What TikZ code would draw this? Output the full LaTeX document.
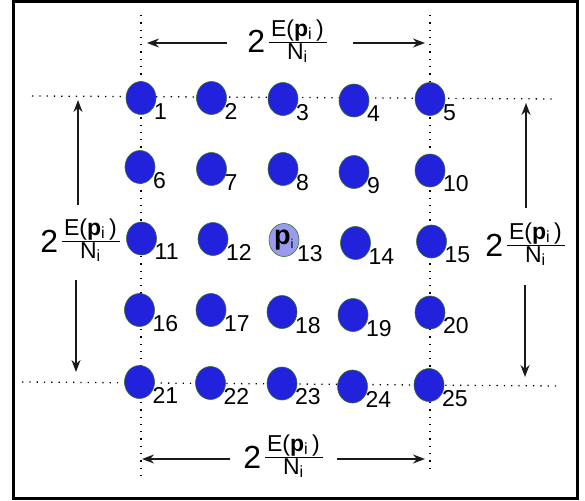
\documentclass[tikz,border=0pt]{standalone}
\usepackage{fontspec}
\setmainfont{Liberation Sans}
\usepackage{xcolor}
\definecolor{cellfill}{HTML}{2222DD}
\definecolor{cellborder}{HTML}{3C6E28}
\definecolor{centerfill}{HTML}{9A9AEE}
\definecolor{arrowcolor}{HTML}{1A1A1A}
\usetikzlibrary{arrows.meta,shapes.geometric}
\tikzset{
    cell/.style={
        ellipse,
        draw=cellborder,
        fill=cellfill,
        line width=0.6pt,
        minimum width=30pt,
        minimum height=33pt,
        inner sep=0pt,
    },
    cellnum/.style={
        anchor=base west,
        inner sep=0pt,
        font=\fontsize{23}{23}\selectfont,
    },
    gridline/.style={
        line width=1.3pt,
        dash pattern=on 1.3pt off 6pt,
    },
    measure/.style={
        anchor=base,
        inner sep=0pt,
        font=\fontsize{23}{20}\selectfont,
    },
    measarrow/.style={
        -{Stealth[length=12pt,width=9pt]},
        line width=1.4pt,
        arrowcolor,
    },
}
\setlength{\arrayrulewidth}{1.3pt}
\newcommand{\spacing}{{\fontsize{32}{32}\selectfont 2}\hspace{4pt}\raisebox{4.5pt}{$\vcenter{\hbox{\begin{tabular}{@{\hspace{2pt}}c@{\hspace{3pt}}}E(\textbf{p}\textsubscript{i}\,)\\\hline N\textsubscript{i}\end{tabular}}}$}}

\begin{document}
\begin{tikzpicture}[x=1pt,y=-1pt]
    \useasboundingbox (0,0) rectangle (585,500);
    % frame
    \draw[line width=2.5pt] (13.5,1.5) rectangle (577.5,498.5);

    % dotted guide lines
    \draw[gridline] (141,15) -- (141,476);
    \draw[gridline] (430,15) -- (430,474);
    \draw[gridline] (32,96) -- (556,99);
    \draw[gridline] (22,382) -- (556,386);

    % grid of cells
    \foreach \n/\x/\y in {1/141/98, 2/211.5/98, 3/283/99, 4/354/100.5, 5/430/99,
        6/140/167, 7/211.5/169, 8/283/169, 9/354/172, 10/430/170.5,
        11/141.5/238.5, 12/213/239, 14/355.5/243, 15/431.5/241.5,
        16/139.5/310, 17/211/310, 18/282/312, 19/353/315, 20/430/312.5,
        21/139.5/382, 22/210.5/383, 23/282/383.5, 24/352.5/386.5, 25/429/385}{
        \node[cell] (c\n) at (\x,\y) {};
        \node[cellnum] (n\n) at ([shift={(13,21)}]c\n.center) {\n};
    }
    % centre cell
    \node[cell, fill=centerfill, font=\fontsize{27}{27}\selectfont] (c13) at (284,240)
        {\textbf{p}\textsubscript{\fontsize{13}{13}\selectfont i}};
    \node[cellnum] (n13) at ([shift={(13,21)}]c13.center) {13};

    % spacing labels
    \node[measure] (mtop) at (287,53) {\spacing};
    \node[measure] (mbottom) at (283,468) {\spacing};
    \node[measure] (mleft) at (80,252) {\spacing};
    \node[measure] (mright) at (525,256) {\spacing};

    % arrow ends
    \coordinate (tl) at (227,43);  \coordinate (tlt) at (147,43);
    \coordinate (tr) at (353,43);  \coordinate (trt) at (425,43);
    \coordinate (bl) at (230,459); \coordinate (blt) at (142,459);
    \coordinate (br) at (337,459); \coordinate (brt) at (425,459);
    \coordinate (lu) at (78,205);  \coordinate (lut) at (78,100);
    \coordinate (ld) at (76,280);  \coordinate (ldt) at (76,372);
    \coordinate (ru) at (526,208); \coordinate (rut) at (526,103);
    \coordinate (rd) at (525,285); \coordinate (rdt) at (525,377);

    % arrows
    \draw[measarrow] (tl) -- (tlt);
    \draw[measarrow] (tr) -- (trt);
    \draw[measarrow] (bl) -- (blt);
    \draw[measarrow] (br) -- (brt);
    \draw[measarrow] (lu) -- (lut);
    \draw[measarrow] (ld) -- (ldt);
    \draw[measarrow] (ru) -- (rut);
    \draw[measarrow] (rd) -- (rdt);
\end{tikzpicture}
\end{document}
